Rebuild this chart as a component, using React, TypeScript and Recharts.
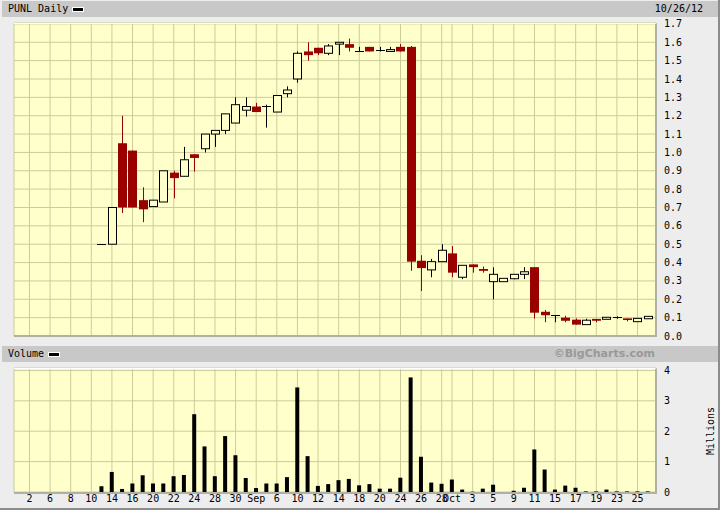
import { ComposedChart, Bar, XAxis, YAxis, CartesianGrid } from "recharts";

const FONT = '"DejaVu Sans Mono", monospace';
const GRID = "#CCCC99";
const PLOT_BG = "#FFFFCC";
const RED = "#990000";

// trading days, Aug 1 - Oct 26 2012
const days = [
  "8/1", "8/2", "8/3", "8/6", "8/7", "8/8", "8/9", "8/10", "8/13", "8/14", "8/15", "8/16",
  "8/17", "8/20", "8/21", "8/22", "8/23", "8/24", "8/27", "8/28", "8/29", "8/30", "8/31",
  "9/4", "9/5", "9/6", "9/7", "9/10", "9/11", "9/12", "9/13", "9/14", "9/17", "9/18", "9/19",
  "9/20", "9/21", "9/24", "9/25", "9/26", "9/27", "9/28",
  "10/1", "10/2", "10/3", "10/4", "10/5", "10/8", "10/9", "10/10", "10/11", "10/12", "10/15",
  "10/16", "10/17", "10/18", "10/19", "10/22", "10/23", "10/24", "10/25", "10/26",
];

const noTrade = [null, null, null, null, null, null, null, null];

const opens = [
  ...noTrade,
  0.5, 0.5, 1.05, 1.01, 0.74, 0.705, 0.73, 0.89, 0.87, 0.99, 1.02, 1.1, 1.12, 1.16, 1.23,
  1.25, 1.255, 1.22, 1.32, 1.4, 1.55, 1.57, 1.54, 1.59, 1.59, 1.55, 1.575, 1.56, 1.55, 1.575,
  1.575, 0.41, 0.36, 0.405, 0.45, 0.32, 0.39, 0.365, 0.296, 0.296, 0.312, 0.336, 0.375, 0.132,
  0.113, 0.1, 0.089, 0.062, 0.093, 0.091, 0.102, 0.096, 0.078, 0.094,
];
const highs = [
  ...noTrade,
  0.5, 0.7, 1.2, 1.01, 0.81, 0.74, 0.9, 0.9, 1.03, 0.99, 1.1, 1.12, 1.21, 1.3, 1.3,
  1.27, 1.26, 1.31, 1.36, 1.55, 1.6, 1.57, 1.59, 1.6, 1.62, 1.575, 1.575, 1.575, 1.575, 1.59,
  1.58, 0.44, 0.42, 0.5, 0.49, 0.385, 0.39, 0.378, 0.374, 0.314, 0.336, 0.375, 0.375, 0.142,
  0.113, 0.11, 0.096, 0.094, 0.093, 0.102, 0.107, 0.096, 0.096, 0.107,
];
const lows = [
  ...noTrade,
  0.5, 0.5, 0.67, 0.7, 0.62, 0.705, 0.73, 0.75, 0.87, 0.895, 1.0, 1.03, 1.1, 1.16, 1.195,
  1.22, 1.135, 1.22, 1.3, 1.38, 1.5, 1.53, 1.53, 1.53, 1.55, 1.55, 1.55, 1.55, 1.55, 1.55,
  0.355, 0.245, 0.32, 0.405, 0.32, 0.31, 0.345, 0.345, 0.2, 0.296, 0.309, 0.31, 0.095, 0.075,
  0.075, 0.075, 0.062, 0.062, 0.075, 0.091, 0.094, 0.08, 0.078, 0.094,
];
const closes = [
  ...noTrade,
  0.5, 0.7, 0.7, 0.7, 0.69, 0.74, 0.9, 0.86, 0.96, 0.97, 1.1, 1.12, 1.21, 1.26, 1.25,
  1.22, 1.255, 1.31, 1.34, 1.54, 1.53, 1.54, 1.58, 1.6, 1.57, 1.55, 1.55, 1.56, 1.56, 1.55,
  0.405, 0.37, 0.405, 0.467, 0.345, 0.385, 0.375, 0.355, 0.336, 0.314, 0.336, 0.35, 0.127, 0.113,
  0.113, 0.083, 0.062, 0.086, 0.083, 0.102, 0.102, 0.087, 0.096, 0.107,
];
// millions of shares
const volumes = [
  ...noTrade,
  0.19, 0.66, 0.1, 0.28, 0.55, 0.28, 0.28, 0.52, 0.56, 2.56, 1.5, 0.52, 1.84, 1.21, 0.46,
  0.13, 0.28, 0.28, 0.49, 3.44, 1.18, 0.2, 0.26, 0.39, 0.43, 0.22, 0.26, 0.11, 0.11, 0.47,
  3.77, 1.16, 0.31, 0.27, 0.41, 0.08, 0.01, 0.11, 0.24, 0, 0.04, 0.14, 1.4, 0.74,
  0.08, 0.21, 0.14, 0.02, 0.02, 0.08, 0.02, 0.02, 0.02, 0.02,
];

const xTickDays = [
  "8/2", "8/6", "8/8", "8/10", "8/14", "8/16", "8/20", "8/22", "8/24", "8/28", "8/30",
  "9/4", "9/6", "9/10", "9/12", "9/14", "9/18", "9/20", "9/24", "9/26", "9/28",
  "10/1", "10/3", "10/5", "10/9", "10/11", "10/15", "10/17", "10/19", "10/23", "10/25",
];
const xTickLabels = [
  "2", "6", "8", "10", "14", "16", "20", "22", "24", "28", "30",
  "Sep", "6", "10", "12", "14", "18", "20", "24", "26", "28",
  "Oct", "3", "5", "9", "11", "15", "17", "19", "23", "25",
];

const priceTicks = [0, 0.1, 0.2, 0.3, 0.4, 0.5, 0.6, 0.7, 0.8, 0.9, 1, 1.1, 1.2, 1.3, 1.4, 1.5, 1.6, 1.7];
const volumeTicks = [0, 1, 2, 3, 4];

const rows = days.map((day, i) => ({
  day,
  open: opens[i],
  high: highs[i],
  low: lows[i],
  close: closes[i],
  volume: volumes[i],
}));

const tickStyle = { fontSize: 10, fontFamily: FONT, fill: "#000" };

function Candle(props: any) {
  const { x, y, width, height, payload } = props;
  if (!payload || payload.open == null || x == null || isNaN(y)) return null;
  const { open, close, high, low } = payload;
  const top = Math.min(y, y + height);
  const h = Math.abs(height);
  const toY = (v: number) => (high === low ? top : top + (h * (high - v)) / (high - low));
  const cx = Math.round(x + width / 2) + 0.5;
  const bw = 9;
  const left = cx - bw / 2;
  const yTop = toY(Math.max(open, close));
  const yBot = toY(Math.min(open, close));
  const up = close >= open;
  const color = up ? "#000" : RED;
  const wick = <line x1={cx} x2={cx} y1={top} y2={top + h} stroke={color} strokeWidth={1} />;
  if (Math.abs(yBot - yTop) < 1) {
    return (
      <g>
        {wick}
        <line x1={left} x2={left + bw} y1={Math.round(yTop) + 0.5} y2={Math.round(yTop) + 0.5} stroke={color} strokeWidth={1} />
      </g>
    );
  }
  if (up) {
    return (
      <g>
        {wick}
        <rect x={left + 0.5} y={yTop} width={bw - 1} height={yBot - yTop} fill={PLOT_BG} stroke="#000" strokeWidth={1} />
      </g>
    );
  }
  return (
    <g>
      {wick}
      <rect x={left} y={yTop} width={bw} height={yBot - yTop} fill={RED} />
    </g>
  );
}

const legendMark = (
  <span
    style={{
      display: "inline-block",
      width: 10,
      height: 3,
      background: "#000",
      border: "1px solid #fff",
      marginLeft: 4,
      verticalAlign: "middle",
    }}
  />
);

const headerStyle: any = {
  position: "absolute",
  left: 2,
  width: 716,
  height: 16,
  background: "#C8C8C8",
  fontFamily: FONT,
  fontSize: 10,
  lineHeight: "16px",
  color: "#000",
};

export default function App() {
  const fmtX = (d: string) => xTickLabels[xTickDays.indexOf(d)] ?? "";
  return (
    <div
      style={{
        position: "relative",
        width: 720,
        height: 510,
        background: "#EDEDED",
        boxSizing: "border-box",
        borderRight: "2px solid #8C8C8C",
        borderBottom: "2px solid #8C8C8C",
        overflow: "hidden",
      }}
    >
      <style>{"body{margin:0}"}</style>

      <div style={{ ...headerStyle, top: 1 }}>
        <span style={{ paddingLeft: 6 }}>PUNL Daily</span>
        {legendMark}
        <span style={{ position: "absolute", right: 15 }}>10/26/12</span>
      </div>

      <div style={{ position: "absolute", left: 0, top: 0 }}>
        <ComposedChart width={720} height={345} data={rows} margin={{ top: 23, right: 0, bottom: 9, left: 14 }}>
          <CartesianGrid stroke={GRID} fill={PLOT_BG} fillOpacity={1} />
          <XAxis dataKey="day" hide ticks={xTickDays} interval={0} padding={{ left: 0, right: 3 }} />
          <YAxis
            orientation="right"
            width={64}
            domain={[0, 1.705]}
            ticks={priceTicks}
            interval={0}
            allowDataOverflow
            axisLine={false}
            tickLine={false}
            tickSize={0}
            tickMargin={8}
            tick={tickStyle}
            tickFormatter={(v: number) => v.toFixed(1)}
          />
          <Bar
            dataKey={(r: any) => (r.open == null ? null : [r.low, r.high])}
            shape={<Candle />}
            isAnimationActive={false}
          />
        </ComposedChart>
      </div>
      <div
        style={{
          position: "absolute",
          left: 14,
          top: 23,
          width: 643,
          height: 314,
          boxSizing: "border-box",
          borderTop: "1px solid #fff",
          borderRight: "2px solid #B0B0A4",
          borderBottom: "2px solid #B0B0A4",
          pointerEvents: "none",
        }}
      />

      <div style={{ ...headerStyle, top: 346 }}>
        <span style={{ paddingLeft: 6 }}>Volume</span>
        {legendMark}
        <span
          style={{
            position: "absolute",
            right: 63,
            fontFamily: '"DejaVu Sans", sans-serif',
            fontWeight: "bold",
            fontSize: 11,
            color: "#999",
          }}
        >
          ©BigCharts.com
        </span>
      </div>

      <div style={{ position: "absolute", left: 0, top: 360 }}>
        <ComposedChart width={720} height={150} data={rows} margin={{ top: 8, right: 0, bottom: 0, left: 14 }}>
          <CartesianGrid stroke={GRID} fill={PLOT_BG} fillOpacity={1} />
          <XAxis
            dataKey="day"
            ticks={xTickDays}
            interval={0}
            height={18}
            padding={{ left: 0, right: 3 }}
            axisLine={false}
            tickLine={false}
            tickSize={0}
            tickMargin={3}
            tick={tickStyle}
            tickFormatter={fmtX}
          />
          <YAxis
            orientation="right"
            width={64}
            domain={[0, 4.08]}
            ticks={volumeTicks}
            interval={0}
            allowDataOverflow
            axisLine={false}
            tickLine={false}
            tickSize={0}
            tickMargin={8}
            tick={tickStyle}
          />
          <Bar dataKey="volume" fill="#000" barSize={4} isAnimationActive={false} />
        </ComposedChart>
      </div>
      <div
        style={{
          position: "absolute",
          left: 14,
          top: 368,
          width: 643,
          height: 126,
          boxSizing: "border-box",
          borderTop: "1px solid #fff",
          borderRight: "2px solid #B0B0A4",
          borderBottom: "2px solid #B0B0A4",
          pointerEvents: "none",
        }}
      />

      <div
        style={{
          position: "absolute",
          left: 710,
          top: 431,
          transform: "translate(-50%, -50%) rotate(-90deg)",
          fontFamily: FONT,
          fontSize: 10,
          whiteSpace: "nowrap",
        }}
      >
        Millions
      </div>
    </div>
  );
}
